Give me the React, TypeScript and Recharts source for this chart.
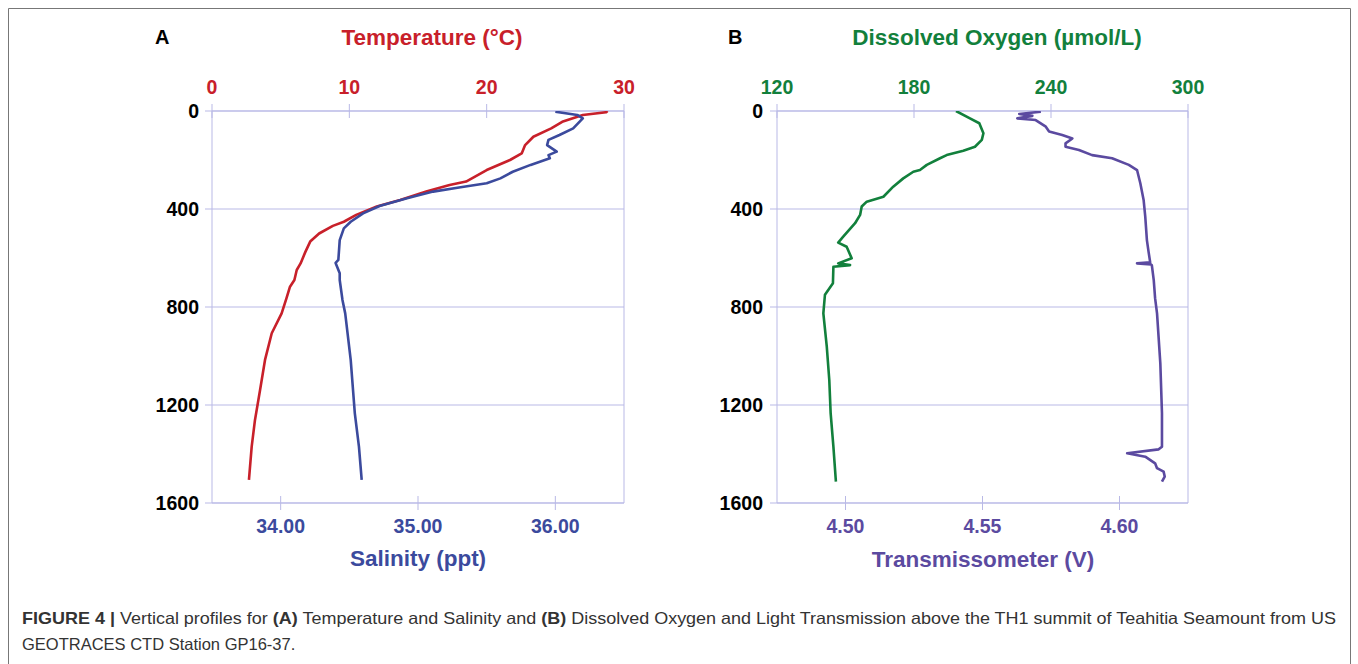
import { CartesianGrid, Scatter, ScatterChart, XAxis, YAxis } from 'recharts'

const FONT = '"Liberation Sans", Arial, Helvetica, sans-serif'
const GRID = '#b9b9e6'

const depthTicks = [0, 400, 800, 1200, 1600]
const tempTicks = [0, 10, 20, 30]
const salTicks = [34, 35, 36]
const oxyTicks = [120, 180, 240, 300]
const transTicks = [4.5, 4.55, 4.6]

// panel A: temperature
const tempDepth = [0, 5, 16, 44, 71, 105, 139, 173, 200, 241, 288, 302, 329, 363, 390, 424, 452, 469, 500, 533, 575, 622, 649, 690, 717, 765, 826, 907, 1016, 1139, 1261, 1370, 1506]
const tempValue = [28.8, 28.7, 27.0, 25.5, 24.7, 23.4, 22.8, 22.55, 21.7, 20.0, 18.5, 17.3, 15.6, 13.7, 12.0, 10.5, 9.6, 8.8, 7.8, 7.15, 6.8, 6.45, 6.17, 6.0, 5.68, 5.42, 5.07, 4.35, 3.86, 3.5, 3.13, 2.89, 2.69]

// panel A: salinity
const salDepth = [3, 16, 30, 71, 98, 118, 139, 166, 180, 193, 220, 248, 275, 295, 311, 329, 356, 388, 418, 452, 479, 527, 608, 620, 662, 690, 771, 826, 1016, 1234, 1370, 1506]
const salValue = [36.0, 36.16, 36.2, 36.13, 36.03, 35.95, 35.94, 36.01, 35.95, 35.96, 35.82, 35.69, 35.6, 35.5, 35.31, 35.11, 34.92, 34.72, 34.6, 34.51, 34.46, 34.43, 34.42, 34.4, 34.43, 34.43, 34.45, 34.47, 34.51, 34.54, 34.57, 34.59]

// panel B: dissolved oxygen
const oxyDepth = [0, 30, 50, 91, 118, 146, 162, 180, 193, 220, 241, 248, 275, 309, 350, 370, 390, 424, 458, 513, 537, 554, 601, 622, 629, 636, 703, 750, 826, 962, 1098, 1234, 1370, 1513]
const oxyValue = [198.4, 204.5, 208.6, 210.4, 209.7, 206.7, 201.6, 194.3, 191.4, 185.6, 182.6, 179.7, 175.3, 170.9, 166.6, 159.3, 157.1, 156.4, 154.2, 149.0, 146.8, 150.5, 152.7, 146.8, 152.0, 144.7, 144.5, 141.0, 140.3, 141.8, 142.9, 143.5, 144.7, 145.8]

// panel B: transmissometer
const transDepth = [3, 12, 20, 30, 37, 64, 84, 98, 112, 132, 146, 159, 180, 193, 220, 241, 295, 363, 431, 527, 574, 618, 622, 626, 629, 690, 765, 826, 1030, 1234, 1370, 1381, 1397, 1411, 1438, 1458, 1472, 1492, 1513]
const transValue = [4.5713, 4.5634, 4.5682, 4.5627, 4.5694, 4.5731, 4.5743, 4.5791, 4.5828, 4.5803, 4.5803, 4.5852, 4.59, 4.5973, 4.6034, 4.6064, 4.6076, 4.6088, 4.6094, 4.61, 4.6106, 4.6112, 4.6064, 4.6115, 4.6118, 4.6125, 4.613, 4.6137, 4.6149, 4.6155, 4.6155, 4.6143, 4.6028, 4.6094, 4.613, 4.6137, 4.6161, 4.6165, 4.6155]

const zip = (depths: number[], values: number[], key: string) =>
  depths.map((d, i) => ({ depth: d, [key]: values[i] }))

// x-axis tick: short line crossing the axis plus bold label
const xTick = (color: string, side: 'top' | 'bottom', gap: number, digits: number) => (props: any) => {
  const { x, y, payload } = props
  const axisY = side === 'top' ? y + gap : y - gap
  return (
    <g>
      <line x1={x} x2={x} y1={axisY - 7} y2={axisY + 7} stroke={GRID} />
      <text x={x} y={y} textAnchor="middle" fill={color} fontSize={19.5} fontWeight="bold" fontFamily={FONT}>
        {Number(payload.value).toFixed(digits)}
      </text>
    </g>
  )
}

type AxisCfg = { key: string; domain: [number, number]; ticks: number[]; color: string; digits: number; data: any[] }

function Panel({ left, width, top, bottom, labelMargin }: { left: number; width: number; top: AxisCfg; bottom: AxisCfg; labelMargin: number }) {
  const topGap = 17
  return (
    <div style={{ position: 'absolute', left, top: 51 }}>
      <ScatterChart width={width} height={502} margin={{ top: 0, right: 24, bottom: 0, left: 0 }}>
        <CartesianGrid xAxisId="top" yAxisId="d" vertical={false} stroke={GRID} />
        <XAxis xAxisId="top" orientation="top" type="number" dataKey={top.key} domain={top.domain} ticks={top.ticks}
          allowDataOverflow interval={0} height={60} tickSize={7} tickMargin={topGap - 7} stroke={GRID} tickLine={false}
          tick={xTick(top.color, 'top', topGap, top.digits)} />
        <XAxis xAxisId="bottom" orientation="bottom" type="number" dataKey={bottom.key} domain={bottom.domain} ticks={bottom.ticks}
          allowDataOverflow interval={0} height={50} tickSize={7} tickMargin={23} stroke={GRID} tickLine={false}
          tick={xTick(bottom.color, 'bottom', 30, bottom.digits)} />
        <YAxis yAxisId="d" type="number" dataKey="depth" domain={[0, 1600]} ticks={depthTicks} reversed allowDataOverflow
          interval={0} width={80} tickSize={7} tickMargin={labelMargin} stroke={GRID}
          tick={{ fill: '#000', fontSize: 19.5, fontWeight: 'bold', fontFamily: FONT }} />
        <YAxis yAxisId="r" orientation="right" type="number" dataKey="depth" domain={[0, 1600]} ticks={depthTicks} reversed
          allowDataOverflow interval={0} width={10} tickSize={7} stroke={GRID} tick={false} />
        <Scatter data={top.data} xAxisId="top" yAxisId="d" fill={top.color} line={{ stroke: top.color, strokeWidth: 2.6, strokeLinejoin: 'round' }}
          shape={() => <g />} isAnimationActive={false} />
        <Scatter data={bottom.data} xAxisId="bottom" yAxisId="d" fill={bottom.color} line={{ stroke: bottom.color, strokeWidth: 2.6, strokeLinejoin: 'round' }}
          shape={() => <g />} isAnimationActive={false} />
      </ScatterChart>
    </div>
  )
}

export default function App() {
  const titleStyle = { fontSize: 22.5, fontWeight: 'bold', fontFamily: FONT } as const
  return (
    <div style={{ position: 'absolute', left: 0, top: 0, width: 1358, height: 664, background: '#fff' }}>
      <svg width={1358} height={664} style={{ position: 'absolute', left: 0, top: 0 }}>
        <path d="M8.5 664 V8.5 H1350.5 V664" fill="none" stroke="#777" strokeWidth={1} />
        <text x={155} y={44} fontSize={20} fontWeight="bold" fontFamily={FONT} fill="#000">A</text>
        <text x={728} y={44} fontSize={20} fontWeight="bold" fontFamily={FONT} fill="#000">B</text>
        <text x={432} y={45} textAnchor="middle" fill="#c8202a" {...titleStyle}>Temperature (°C)</text>
        <text x={997} y={45} textAnchor="middle" fill="#12803c" {...titleStyle}>Dissolved Oxygen (µmol/L)</text>
        <text x={418} y={566} textAnchor="middle" fill="#3b4a9d" {...titleStyle}>Salinity (ppt)</text>
        <text x={983} y={567} textAnchor="middle" fill="#5b4aa0" {...titleStyle}>Transmissometer (V)</text>
        <text x={22} y={624} fontSize={16.5} fontFamily={FONT} fill="#333" textLength={1314} lengthAdjust="spacingAndGlyphs">
          <tspan fontWeight="bold">FIGURE 4 |</tspan>{' Vertical profiles for '}<tspan fontWeight="bold">(A)</tspan>
          {' Temperature and Salinity and '}<tspan fontWeight="bold">(B)</tspan>
          {' Dissolved Oxygen and Light Transmission above the TH1 summit of Teahitia Seamount from US'}
        </text>
        <text x={22} y={650} fontSize={16.5} fontFamily={FONT} fill="#333">GEOTRACES CTD Station GP16-37.</text>
      </svg>
      <Panel left={132} width={526} labelMargin={6}
        top={{ key: 'temp', domain: [0, 30], ticks: tempTicks, color: '#c8202a', digits: 0, data: zip(tempDepth, tempValue, 'temp') }}
        bottom={{ key: 'sal', domain: [33.5, 36.5], ticks: salTicks, color: '#3b4a9d', digits: 2, data: zip(salDepth, salValue, 'sal') }} />
      <Panel left={697} width={525} labelMargin={7}
        top={{ key: 'oxy', domain: [120, 300], ticks: oxyTicks, color: '#12803c', digits: 0, data: zip(oxyDepth, oxyValue, 'oxy') }}
        bottom={{ key: 'trans', domain: [4.475, 4.625], ticks: transTicks, color: '#5b4aa0', digits: 2, data: zip(transDepth, transValue, 'trans') }} />
    </div>
  )
}
